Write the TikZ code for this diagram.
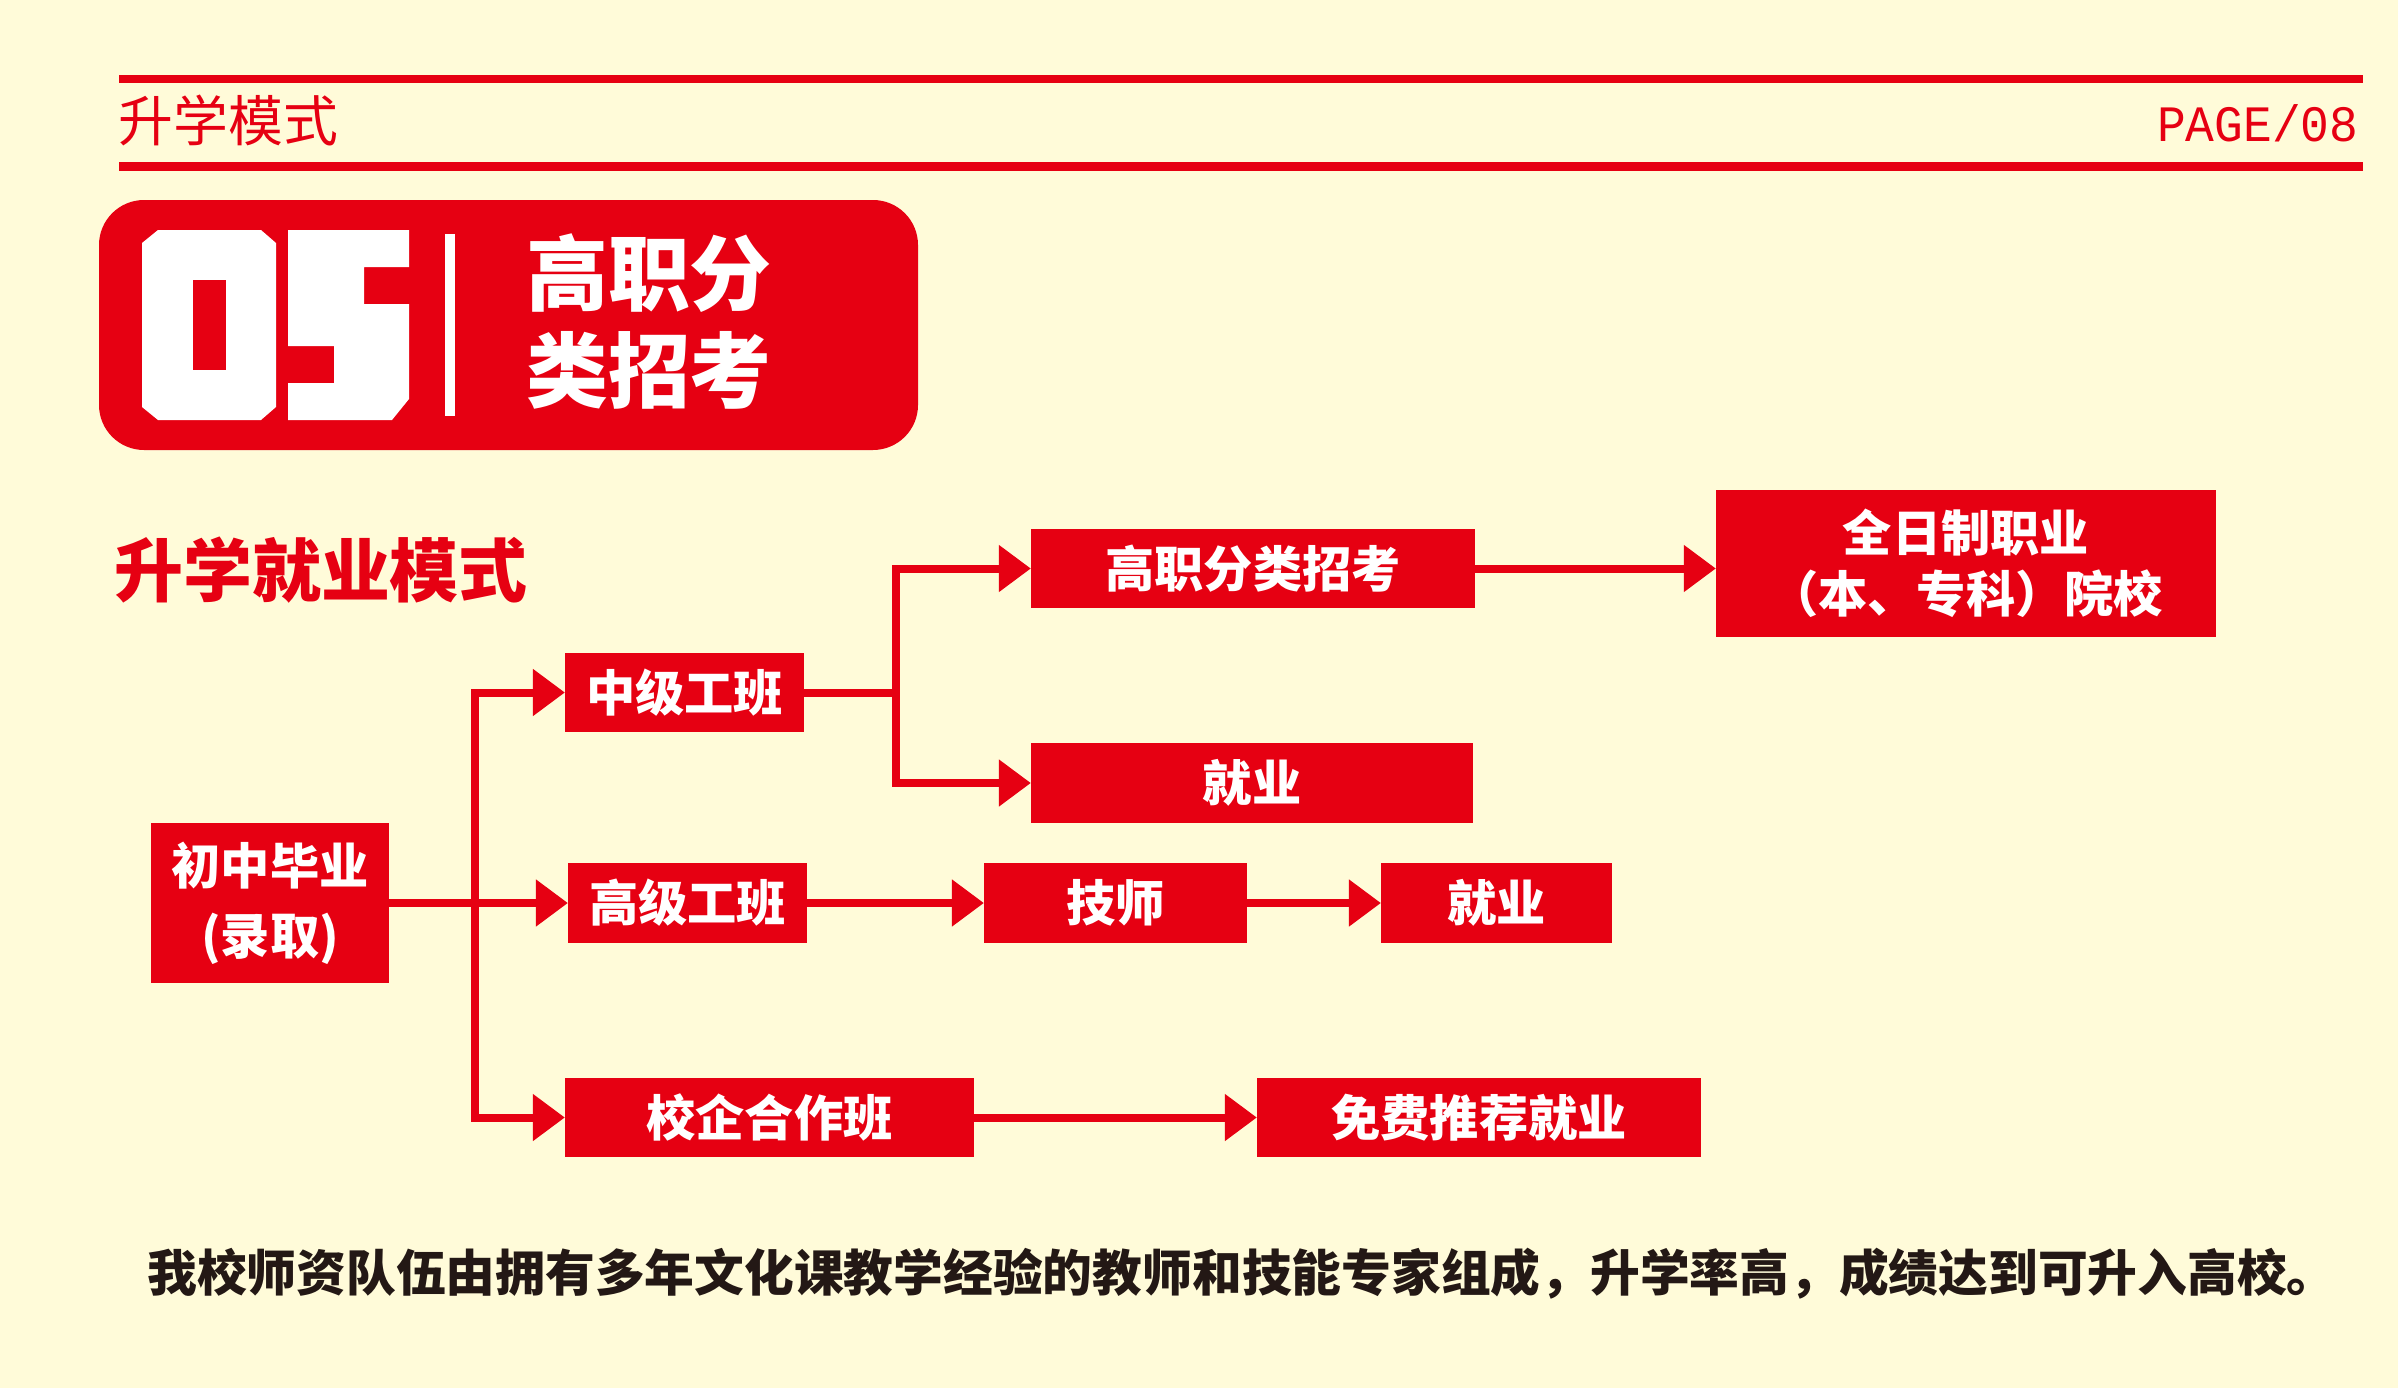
\documentclass[tikz,border=0pt]{standalone}
\usepackage{fontspec}
\newfontfamily\cjk{Noto Sans CJK SC}
\newfontfamily\pagefont{Liberation Mono}
\usetikzlibrary{arrows.meta}
\definecolor{redc}{RGB}{230,0,18}
\definecolor{bgc}{RGB}{255,251,217}
\definecolor{darkc}{RGB}{35,24,21}
\tikzset{
  conn/.style={line width=0.08cm, draw=redc},
  arr/.style={conn, -{Triangle[length=3.2mm,width=4.5mm]}},
  box/.style={fill=redc, text=white, inner sep=0pt, outer sep=0pt,
    font=\cjk\bfseries\fontsize{14}{17}\selectfont},
  rule/.style={draw=redc, line width=0.085cm}
}
\begin{document}
\begin{tikzpicture}[x=0.01cm,y=-0.01cm]
\useasboundingbox (0,0) rectangle (2398,1388);
\fill[bgc] (0,0) rectangle (2398,1388);
% header rules
\draw[rule] (119,79) -- (2363,79);
\draw[rule] (119,166.5) -- (2363,166.5);
\node[text=redc, font=\cjk\fontsize{15.6}{18}\selectfont, inner sep=0] (hdr) at (228.5,120.5) {升学模式};
\node[text=redc, font=\pagefont\fontsize{14.5}{17}\selectfont, anchor=east, inner sep=0, xscale=0.94] (pg) at (2359,123) {PAGE/08};
% header block
\fill[redc, rounded corners=0.45cm] (99,200) rectangle (918,450);
\fill[white] (142,243) -- (158,230) -- (261,230) -- (276,243) -- (276,407) -- (261,420) -- (158,420) -- (142,407) -- cycle;
\fill[redc] (193,280) rectangle (226,370);
\fill[white] (288,230) -- (409,230) -- (409,267) -- (364,267) -- (364,304) -- (409,304) -- (409,399) -- (392,420) -- (288,420) -- (288,383) -- (334,383) -- (334,346) -- (288,346) -- cycle;
\fill[white] (445,234) rectangle (455,416);
\node[text=white, font=\cjk\bfseries\fontsize{23.3}{28}\selectfont, inner sep=0] (t1) at (649,273) {高职分};
\node[text=white, font=\cjk\bfseries\fontsize{23.3}{28}\selectfont, inner sep=0] (t2) at (649,370) {类招考};
% section title
\node[text=redc, font=\cjk\bfseries\fontsize{19.6}{23}\selectfont, inner sep=0] (st) at (321,570.5) {升学就业模式};
% boxes
\node[box, minimum width=2.38cm, minimum height=1.59cm, align=center,
  font=\cjk\bfseries\fontsize{14}{19.9}\selectfont] (cz) at (270,903) {初中毕业\\(录取)};
\node[box, minimum width=2.39cm, minimum height=0.79cm] (zj) at (684.5,692.5) {中级工班};
\node[box, minimum width=2.39cm, minimum height=0.79cm] (gj) at (687.5,903) {高级工班};
\node[box, minimum width=4.09cm, minimum height=0.79cm] (xq) at (769.5,1117.5) {校企合作班};
\node[box, minimum width=4.44cm, minimum height=0.79cm] (gz) at (1253,568.5) {高职分类招考};
\node[box, minimum width=4.42cm, minimum height=0.80cm] (jy1) at (1252,783) {就业};
\node[box, minimum width=5.00cm, minimum height=1.47cm, align=center,
  font=\cjk\bfseries\fontsize{14}{17.4}\selectfont] (qr) at (1966,563.5) {全日制职业\\（本、专科）院校};
\node[box, minimum width=2.63cm, minimum height=0.79cm] (js) at (1115.5,903) {技师};
\node[box, minimum width=2.31cm, minimum height=0.79cm] (jy2) at (1496.5,903) {就业};
\node[box, minimum width=4.44cm, minimum height=0.79cm] (mf) at (1479,1117.5) {免费推荐就业};
% connectors
\coordinate (b1) at (475,903);
\coordinate (b2) at (896,692.5);
\draw[arr] (cz.east) -- (gj.west);
\draw[arr] (b1) |- (zj.west);
\draw[arr] (b1) |- (xq.west);
\draw[conn] (zj.east) -- (b2);
\draw[arr] (b2) |- (gz.west);
\draw[arr] (b2) |- (jy1.west);
\draw[arr] (gz.east) -- (gz.east -| qr.west);
\draw[arr] (gj.east) -- (js.west);
\draw[arr] (js.east) -- (jy2.west);
\draw[arr] (xq.east) -- (mf.west);
% bottom text
\node[text=darkc, font=\cjk\bfseries\fontsize{14.15}{17}\selectfont, inner sep=0] (bt) at (1242,1273.5) {我校师资队伍由拥有多年文化课教学经验的教师和技能专家组成，升学率高，成绩达到可升入高校。};
\end{tikzpicture}
\end{document}
